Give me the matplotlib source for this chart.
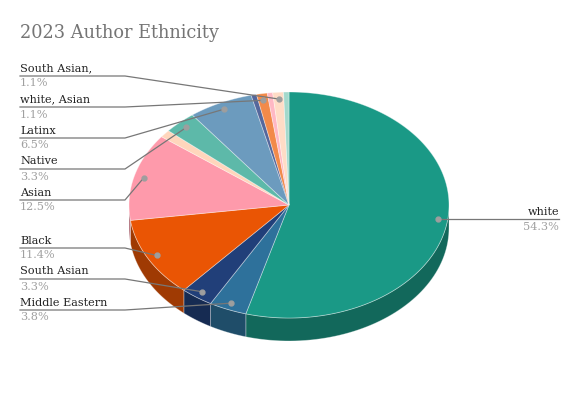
import numpy as np
import matplotlib
matplotlib.use("Agg")
import matplotlib.pyplot as plt
from matplotlib.patches import Polygon
from matplotlib.colors import to_rgb

# === DATOS ===
grupos = ["white", "Middle Eastern", "South Asian", "Black", "Asian", "(sin etiqueta 1)",
          "Native", "Latinx", "(sin etiqueta 2)", "white, Asian", "(sin etiqueta 3)",
          "South Asian,", "(sin etiqueta 4)"]
autores = [100, 7, 6, 21, 23, 2, 6, 12, 1, 2, 1, 2, 1]
colores = ["#1a9986", "#2e719b", "#213f79", "#ea5504", "#fe9aab", "#ffd6bc",
           "#5db9a9", "#6c9bbe", "#55679c", "#f28a4a", "#ffb8c4", "#ffdcc6", "#a3d9cc"]
etiquetados = ["South Asian,", "white, Asian", "Latinx", "Native", "Asian",
               "Black", "South Asian", "Middle Eastern"]
y_etiquetas = [76, 107, 138, 169, 200, 248, 279, 310]

# === GEOMETRIA DEL PASTEL 3D (pixeles) ===
cx, cy = 289, 205
rx, ry = 160, 113
prof = 23

total = sum(autores)
fracs = np.array(autores) / total
bordes = np.concatenate([[0], np.cumsum(fracs) * 360])

fig = plt.figure(figsize=(5.79, 3.97), dpi=100)
ax = fig.add_axes([0, 0, 1, 1])
ax.set_xlim(0, 579)
ax.set_ylim(397, 0)
ax.axis("off")


def punto(t, dy=0, k=1.0):
    r = np.radians(t)
    return cx + k * rx * np.sin(r), cy - k * ry * np.cos(r) + dy


def oscuro(c, f=0.68):
    return tuple(v * f for v in to_rgb(c))


# caras laterales (solo la mitad frontal)
for i in range(len(autores)):
    a0, a1 = max(bordes[i], 90), min(bordes[i + 1], 270)
    if a1 <= a0:
        continue
    ts = np.linspace(a0, a1, 60)
    arriba = [punto(t) for t in ts]
    abajo = [punto(t, prof) for t in ts[::-1]]
    ax.add_patch(Polygon(arriba + abajo, closed=True, facecolor=oscuro(colores[i]),
                         edgecolor=(1, 1, 1, 0.35), lw=0.6))

# cara superior
for i in range(len(autores)):
    ts = np.linspace(bordes[i], bordes[i + 1], max(int(bordes[i + 1] - bordes[i]) * 2, 4))
    pts = [(cx, cy)] + [punto(t) for t in ts]
    ax.add_patch(Polygon(pts, closed=True, facecolor=colores[i],
                         edgecolor=(1, 1, 1, 0.4), lw=0.6))

# === ETIQUETAS ===
serif = "DejaVu Serif"
gris_linea = "#777777"
for nombre, ye in zip(etiquetados, y_etiquetas):
    i = grupos.index(nombre)
    px, py = punto((bordes[i] + bordes[i + 1]) / 2, k=0.94)
    ax.plot([20, 125, px], [ye, ye, py], color=gris_linea, lw=0.9)
    ax.plot(px, py, "o", color="#9e9e9e", ms=3.5)
    ax.text(20, ye - 2.5, nombre, fontsize=8.1, family=serif, color="#222222", va="bottom")
    ax.text(20, ye + 2.5, f"{fracs[i] * 100:.1f}%", fontsize=8.1, family=serif,
            color="#a0a0a0", va="top")

# etiqueta del sector principal
px, py = punto(bordes[1] / 2, k=0.94)
ax.plot([px, 559], [py, py], color=gris_linea, lw=0.9)
ax.plot(px, py, "o", color="#9e9e9e", ms=3.5)
ax.text(559, py - 2.5, grupos[0], fontsize=8.1, family=serif, color="#222222",
        ha="right", va="bottom")
ax.text(559, py + 2.5, f"{fracs[0] * 100:.1f}%", fontsize=8.1, family=serif,
        color="#a0a0a0", ha="right", va="top")

ax.text(20, 33, "2023 Author Ethnicity", fontsize=12.8, family="DejaVu Serif",
        color="#757575", va="center")

fig.savefig("out.png", dpi=100)
